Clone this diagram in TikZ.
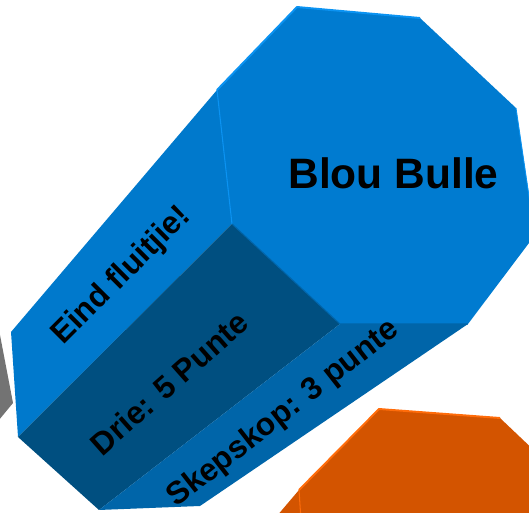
\documentclass[tikz,border=0pt]{standalone}
\usepackage{fontspec}
\setmainfont{Liberation Sans}
\tikzset{
  label18/.style={font=\bfseries\fontsize{18}{18}\selectfont, text=black, inner sep=0pt},
  rimblue/.style={line width=1.1pt, draw=rimbluecol, line join=round},
  rimorange/.style={line width=1.1pt, draw=orangerim, line join=round},
}
\definecolor{faceblue}{HTML}{007BD0}
\definecolor{sideblue}{HTML}{0079CC}
\definecolor{lowblue}{HTML}{0065A9}
\definecolor{darkblue}{HTML}{004F80}
\definecolor{rimbluecol}{HTML}{0B93F2}
\definecolor{orangeface}{HTML}{D35400}
\definecolor{orangerim}{HTML}{FF6C0A}
\definecolor{greyside}{HTML}{737373}
\begin{document}
\begin{tikzpicture}[x=0.02cm, y=-0.02cm]
    \useasboundingbox (0, 0) rectangle (529, 513) ;
    \clip (0, 0) rectangle (529, 513) ;
    % grey block on the left
    \fill[greyside] (-20, 300) -- (0, 335) -- (13, 403) -- (-20, 443) -- cycle ;
    % orange block
    \fill[orangeface] (379, 409) -- (500, 418) -- (560, 475) -- (560, 530) -- (265, 530) -- (299, 490) -- cycle ;
    \draw[rimorange] (299, 490) -- (379, 409) -- (500, 418) ;
    \draw[rimorange, line width=.6pt] (299, 490) -- (301, 520) ;
    % blue block, sides
    \fill[sideblue] (217, 90) -- (232, 224) -- (18, 437) -- (11, 332) -- cycle ;
    \fill[darkblue] (232, 224) -- (340, 324) -- (99, 510) -- (18, 437) -- cycle ;
    \fill[lowblue] (340, 324) -- (468, 324) -- (200, 506) -- (99, 510) -- cycle ;
    % blue block, front
    \fill[faceblue] (297, 7) -- (420, 18) -- (516, 108) -- (535, 235) -- (468, 324) -- (340, 324) -- (232, 224) -- (217, 90) -- cycle ;
    \draw[rimblue] (217, 90) -- (297, 7) -- (420, 18) ;
    \draw[rimblue, line width=.5pt] (516, 108) -- (531, 210) ;
    \draw[rimblue, line width=.6pt] (217, 90) -- (232, 224) ;
    \draw[lowblue, line width=.6pt] (232, 224) -- (340, 324) -- (468, 324) ;
    % labels
    \node[font=\bfseries\fontsize{24.2}{24.2}\selectfont, inner sep=0pt] (title) at (393.5, 173) {Blou Bulle} ;
    \node[label18, rotate=45] (eind) at (122, 276) {Eind fluitjie!} ;
    \node[label18, rotate=41.5] (drie) at (169, 383) {Drie: 5 Punte} ;
    \node[label18, rotate=38] (skep) at (283.5, 414) {Skepskop: 3 punte} ;
\end{tikzpicture}
\end{document}
